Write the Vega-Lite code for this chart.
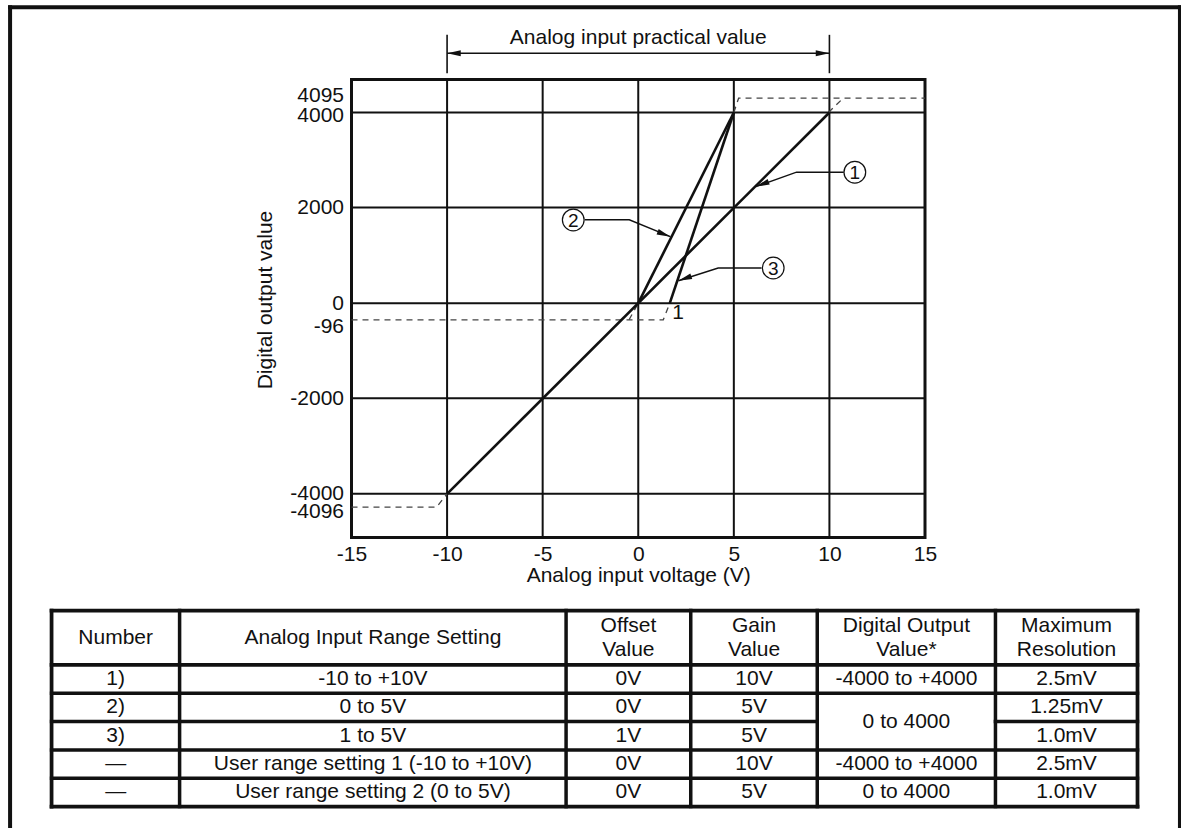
{
  "$schema": "https://vega.github.io/schema/vega-lite/v6.json",
  "padding": {"left": 6.5, "top": 3.5, "right": 0, "bottom": 0},
  "background": "white",
  "bounds": "flush",
  "spacing": 73,
  "config": {
    "font": "Liberation Sans",
    "view": {"stroke": null},
    "text": {"font": "Liberation Sans", "fontSize": 21, "color": "#111"}
  },
  "vconcat": [
    {
      "width": 573.5,
      "height": 458,
      "view": {"stroke": "#111", "strokeWidth": 3},
      "layer": [
        {
          "data": {"values": [{"v": -10}, {"v": -5}, {"v": 0}, {"v": 5}, {"v": 10}]},
          "mark": {"type": "rule", "color": "#111", "strokeWidth": 2},
          "encoding": {
            "x": {
              "field": "v", "type": "quantitative",
              "scale": {"domain": [-15, 15], "nice": false, "zero": false},
              "axis": {
                "values": [-15, -10, -5, 0, 5, 10, 15],
                "labelExpr": "'' + datum.value",
                "grid": false, "ticks": false, "domain": false,
                "labelFontSize": 21, "labelColor": "#111", "labelPadding": 6,
                "labelFlush": false, "labelOverlap": false,
                "title": "Analog input voltage (V)",
                "titleFontSize": 21, "titleFontWeight": "normal", "titleColor": "#111", "titlePadding": 0
              }
            }
          }
        },
        {
          "data": {"values": [{"d": -4000}, {"d": -2000}, {"d": 0}, {"d": 2000}, {"d": 4000}]},
          "mark": {"type": "rule", "color": "#111", "strokeWidth": 2},
          "encoding": {
            "y": {
              "field": "d", "type": "quantitative",
              "scale": {
                "domain": [-4911, -4096, -4000, -2000, -96, 0, 2000, 4000, 4095, 4692, 5910],
                "range": [458, 427.7, 414.3, 318.7, 240.3, 223.7, 128, 33, 18.7, 0, -58],
                "nice": false, "zero": false
              },
              "axis": {
                "values": [-4096, -4000, -2000, -96, 0, 2000, 4000, 4095],
                "labelExpr": "'' + datum.value",
                "grid": false, "ticks": false, "domain": false,
                "labelFontSize": 21, "labelColor": "#111", "labelPadding": 8,
                "labelFlush": false, "labelOverlap": false, "labelBound": false,
                "labelOffset": {
                  "condition": [
                    {"test": "datum.value === 4095", "value": -3},
                    {"test": "datum.value === 4000", "value": 3},
                    {"test": "datum.value === -96", "value": 7},
                    {"test": "datum.value === -4096", "value": 4}
                  ],
                  "value": 0
                },
                "title": "Digital output value",
                "titleFontSize": 21, "titleFontWeight": "normal", "titleColor": "#111",
                "titlePadding": 14, "titleY": 220
              }
            }
          }
        },
        {
          "data": {"values": [
            {"s": "a", "v": -15, "d": -4096, "o": 1}, {"s": "a", "v": -10.55, "d": -4096, "o": 2}, {"s": "a", "v": -10, "d": -4000, "o": 3},
            {"s": "b", "v": -15, "d": -96, "o": 1}, {"s": "b", "v": 1.31, "d": -96, "o": 2}, {"s": "b", "v": 1.65, "d": 0, "o": 3},
            {"s": "c", "v": -0.48, "d": -96, "o": 1}, {"s": "c", "v": 0, "d": 0, "o": 2},
            {"s": "d", "v": 5, "d": 4000, "o": 1}, {"s": "d", "v": 5.25, "d": 4095, "o": 2}, {"s": "d", "v": 15, "d": 4095, "o": 3},
            {"s": "e", "v": 9.95, "d": 4000, "o": 1}, {"s": "e", "v": 10.72, "d": 4095, "o": 2}
          ]},
          "mark": {"type": "line", "color": "#444", "strokeWidth": 1.3, "strokeDash": [6, 5]},
          "encoding": {
            "x": {"field": "v", "type": "quantitative"},
            "y": {"field": "d", "type": "quantitative"},
            "detail": {"field": "s"},
            "order": {"field": "o"}
          }
        },
        {
          "data": {"values": [
            {"s": "1", "v": -10, "d": -4000}, {"s": "1", "v": 10, "d": 4000},
            {"s": "2", "v": 0, "d": 0}, {"s": "2", "v": 5, "d": 4000},
            {"s": "3", "v": 1.65, "d": 0}, {"s": "3", "v": 5, "d": 4000}
          ]},
          "mark": {"type": "line", "color": "#111", "strokeWidth": 2.6},
          "encoding": {
            "x": {"field": "v", "type": "quantitative"},
            "y": {"field": "d", "type": "quantitative"},
            "detail": {"field": "s"}
          }
        },
        {
          "data": {"values": [
            {"n": "1", "v": 10.75, "d": 2743, "o": 1}, {"n": "1", "v": 8.28, "d": 2743, "o": 2}, {"n": "1", "v": 6.15, "d": 2440, "o": 3},
            {"n": "2", "v": -2.8, "d": 1743, "o": 1}, {"n": "2", "v": -0.47, "d": 1743, "o": 2}, {"n": "2", "v": 1.68, "d": 1390, "o": 3},
            {"n": "3", "v": 6.45, "d": 735, "o": 1}, {"n": "3", "v": 4.18, "d": 735, "o": 2}, {"n": "3", "v": 2.1, "d": 470, "o": 3},
            {"n": "P", "v": -10, "d": 5244, "o": 1}, {"n": "P", "v": 10, "d": 5244, "o": 2}
          ]},
          "mark": {"type": "line", "color": "#111", "strokeWidth": 1.4},
          "encoding": {
            "x": {"field": "v", "type": "quantitative"},
            "y": {"field": "d", "type": "quantitative"},
            "detail": {"field": "n"},
            "order": {"field": "o"}
          }
        },
        {
          "data": {"values": [{"v": -10, "d": 4824, "d2": 5630}, {"v": 10, "d": 4824, "d2": 5630}]},
          "mark": {"type": "rule", "color": "#111", "strokeWidth": 1.6},
          "encoding": {
            "x": {"field": "v", "type": "quantitative"},
            "y": {"field": "d", "type": "quantitative"},
            "y2": {"field": "d2"}
          }
        },
        {
          "data": {"values": [{"n": "1", "v": 6.15, "d": 2440}]},
          "mark": {"type": "point", "shape": "M0,0L-0.45,2.1L0.45,2.1Z", "filled": true, "size": 170, "color": "#111", "opacity": 1, "angle": 249.4},
          "encoding": {"x": {"field": "v", "type": "quantitative"}, "y": {"field": "d", "type": "quantitative"}}
        },
        {
          "data": {"values": [{"n": "2", "v": 1.68, "d": 1390}]},
          "mark": {"type": "point", "shape": "M0,0L-0.45,2.1L0.45,2.1Z", "filled": true, "size": 170, "color": "#111", "opacity": 1, "angle": 111.4},
          "encoding": {"x": {"field": "v", "type": "quantitative"}, "y": {"field": "d", "type": "quantitative"}}
        },
        {
          "data": {"values": [{"n": "3", "v": 2.1, "d": 470}]},
          "mark": {"type": "point", "shape": "M0,0L-0.45,2.1L0.45,2.1Z", "filled": true, "size": 170, "color": "#111", "opacity": 1, "angle": 250.7},
          "encoding": {"x": {"field": "v", "type": "quantitative"}, "y": {"field": "d", "type": "quantitative"}}
        },
        {
          "data": {"values": [{"n": "L", "v": -10, "d": 5244}]},
          "mark": {"type": "point", "shape": "M0,0L-0.45,2.1L0.45,2.1Z", "filled": true, "size": 170, "color": "#111", "opacity": 1, "angle": 270},
          "encoding": {"x": {"field": "v", "type": "quantitative"}, "y": {"field": "d", "type": "quantitative"}}
        },
        {
          "data": {"values": [{"n": "R", "v": 10, "d": 5244}]},
          "mark": {"type": "point", "shape": "M0,0L-0.45,2.1L0.45,2.1Z", "filled": true, "size": 170, "color": "#111", "opacity": 1, "angle": 90},
          "encoding": {"x": {"field": "v", "type": "quantitative"}, "y": {"field": "d", "type": "quantitative"}}
        },
        {
          "data": {"values": [
            {"t": "1", "v": 11.33, "d": 2743}, {"t": "2", "v": -3.4, "d": 1740}, {"t": "3", "v": 7.06, "d": 735}
          ]},
          "layer": [
            {
              "mark": {"type": "point", "shape": "circle", "size": 470, "filled": false, "stroke": "#111", "strokeWidth": 1.2, "opacity": 1},
              "encoding": {
                "x": {"field": "v", "type": "quantitative"},
                "y": {"field": "d", "type": "quantitative"}
              }
            },
            {
              "mark": {"type": "text", "fontSize": 19, "baseline": "middle", "align": "center", "dy": 1},
              "encoding": {
                "x": {"field": "v", "type": "quantitative"},
                "y": {"field": "d", "type": "quantitative"},
                "text": {"field": "t"}
              }
            }
          ]
        },
        {
          "data": {"values": [
            {"t": "1", "v": 2.09, "d": -58},
            {"t": "Analog input practical value", "v": 0, "d": 5574}
          ]},
          "mark": {"type": "text", "fontSize": 21, "baseline": "middle", "align": "center"},
          "encoding": {
            "x": {"field": "v", "type": "quantitative"},
            "y": {"field": "d", "type": "quantitative"},
            "text": {"field": "t"}
          }
        }
      ]
    },
    {
      "width": 786,
      "height": 217,
      "layer": [
        {
          "data": {"values": [
            {"x": -3.82, "x2": 103.91, "y": -21.29, "y2": -21.29, "w": "frame"},
            {"x": -3.82, "x2": -3.82, "y": -21.29, "y2": 7.657, "w": "frame"},
            {"x": 103.91, "x2": 103.91, "y": -21.29, "y2": 7.657, "w": "frame"},
            {"x": 0, "x2": 100, "y": 0, "y2": 0, "w": "thick"},
            {"x": 0, "x2": 100, "y": 1.92, "y2": 1.92, "w": "thick"},
            {"x": 0, "x2": 100, "y": 2.92, "y2": 2.92, "w": "thin"},
            {"x": 0, "x2": 70.51, "y": 3.92, "y2": 3.92, "w": "thin"},
            {"x": 86.92, "x2": 100, "y": 3.92, "y2": 3.92, "w": "thin"},
            {"x": 0, "x2": 100, "y": 4.92, "y2": 4.92, "w": "thin"},
            {"x": 0, "x2": 100, "y": 5.92, "y2": 5.92, "w": "thin"},
            {"x": 0, "x2": 100, "y": 6.92, "y2": 6.92, "w": "thick"},
            {"x": 0, "x2": 0, "y": 0, "y2": 6.92, "w": "thick"},
            {"x": 100, "x2": 100, "y": 0, "y2": 6.92, "w": "thick"},
            {"x": 11.79, "x2": 11.79, "y": 0, "y2": 6.92, "w": "thin"},
            {"x": 47.38, "x2": 47.38, "y": 0, "y2": 6.92, "w": "thin"},
            {"x": 58.86, "x2": 58.86, "y": 0, "y2": 6.92, "w": "thin"},
            {"x": 70.51, "x2": 70.51, "y": 0, "y2": 6.92, "w": "thin"},
            {"x": 86.92, "x2": 86.92, "y": 0, "y2": 6.92, "w": "thin"}
          ]},
          "mark": {"type": "rule", "color": "#111", "strokeCap": "square"},
          "encoding": {
            "x": {"field": "x", "type": "quantitative", "scale": {"domain": [27.62, 100], "nice": false, "zero": false}, "axis": null},
            "x2": {"field": "x2"},
            "y": {"field": "y", "type": "quantitative", "scale": {"domain": [0, 7.657], "reverse": true, "nice": false, "zero": false}, "axis": null},
            "y2": {"field": "y2"},
            "strokeWidth": {"field": "w", "type": "nominal", "scale": {"domain": ["frame", "thick", "thin"], "range": [4, 3.5, 1.5]}, "legend": null}
          }
        },
        {
          "data": {"values": [
            {"x": 53.12, "y": 0.96, "t": "Offset\nValue"},
            {"x": 64.69, "y": 0.96, "t": "Gain\nValue"},
            {"x": 78.72, "y": 0.96, "t": "Digital Output\nValue*"},
            {"x": 93.46, "y": 0.96, "t": "Maximum\nResolution"}
          ]},
          "mark": {"type": "text", "fontSize": 21, "lineBreak": "\n", "lineHeight": 24, "baseline": "middle", "align": "center", "dy": -12},
          "encoding": {
            "x": {"field": "x", "type": "quantitative"},
            "y": {"field": "y", "type": "quantitative"},
            "text": {"field": "t"}
          }
        },
        {
          "data": {"values": [
            {"x": 5.9, "y": 0.96, "t": "Number"},
            {"x": 29.59, "y": 0.96, "t": "Analog Input Range Setting"},
            {"x": 5.9, "y": 2.42, "t": "1)"},
            {"x": 29.59, "y": 2.42, "t": "-10 to +10V"},
            {"x": 53.12, "y": 2.42, "t": "0V"},
            {"x": 64.69, "y": 2.42, "t": "10V"},
            {"x": 78.72, "y": 2.42, "t": "-4000 to +4000"},
            {"x": 93.46, "y": 2.42, "t": "2.5mV"},
            {"x": 5.9, "y": 3.42, "t": "2)"},
            {"x": 29.59, "y": 3.42, "t": "0 to 5V"},
            {"x": 53.12, "y": 3.42, "t": "0V"},
            {"x": 64.69, "y": 3.42, "t": "5V"},
            {"x": 78.72, "y": 3.92, "t": "0 to 4000"},
            {"x": 93.46, "y": 3.42, "t": "1.25mV"},
            {"x": 5.9, "y": 4.42, "t": "3)"},
            {"x": 29.59, "y": 4.42, "t": "1 to 5V"},
            {"x": 53.12, "y": 4.42, "t": "1V"},
            {"x": 64.69, "y": 4.42, "t": "5V"},
            {"x": 93.46, "y": 4.42, "t": "1.0mV"},
            {"x": 5.9, "y": 5.42, "t": "—"},
            {"x": 29.59, "y": 5.42, "t": "User range setting 1 (-10 to +10V)"},
            {"x": 53.12, "y": 5.42, "t": "0V"},
            {"x": 64.69, "y": 5.42, "t": "10V"},
            {"x": 78.72, "y": 5.42, "t": "-4000 to +4000"},
            {"x": 93.46, "y": 5.42, "t": "2.5mV"},
            {"x": 5.9, "y": 6.42, "t": "—"},
            {"x": 29.59, "y": 6.42, "t": "User range setting 2 (0 to 5V)"},
            {"x": 53.12, "y": 6.42, "t": "0V"},
            {"x": 64.69, "y": 6.42, "t": "5V"},
            {"x": 78.72, "y": 6.42, "t": "0 to 4000"},
            {"x": 93.46, "y": 6.42, "t": "1.0mV"}
          ]},
          "mark": {"type": "text", "fontSize": 21, "baseline": "middle", "align": "center"},
          "encoding": {
            "x": {"field": "x", "type": "quantitative"},
            "y": {"field": "y", "type": "quantitative"},
            "text": {"field": "t"}
          }
        }
      ]
    }
  ]
}
